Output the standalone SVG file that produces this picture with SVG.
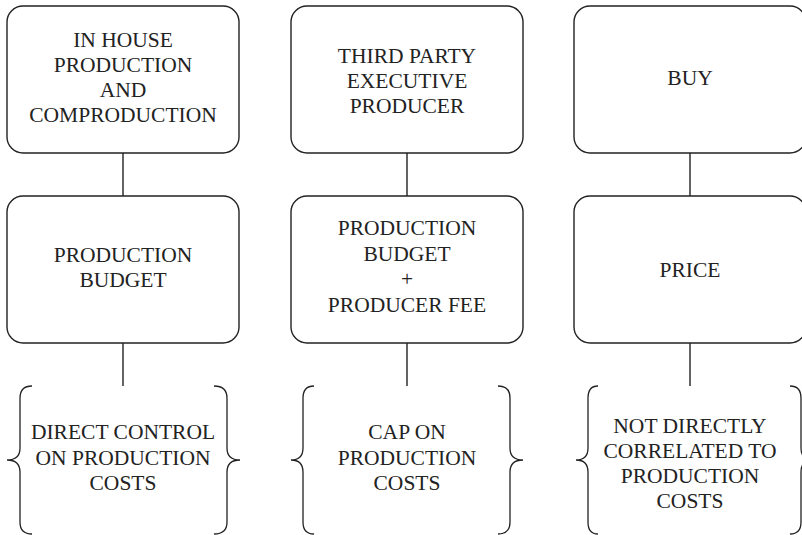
<svg xmlns="http://www.w3.org/2000/svg" width="802" height="535" viewBox="0 0 802 535">
<style>
.box{fill:#fff;stroke:#222;stroke-width:1.4}
.ln{stroke:#222;stroke-width:1.4;fill:none}
.br{stroke:#222;stroke-width:1.3;fill:none}
.t{font-family:'Liberation Serif','Times New Roman',serif;font-size:21.5px;fill:#222;text-anchor:middle}
</style>
<rect width="802" height="535" fill="#fff"/>
<g id="connectors">
<line class="ln" x1="123" y1="153" x2="123" y2="196"/>
<line class="ln" x1="123" y1="343" x2="123" y2="386"/>
<line class="ln" x1="407" y1="153" x2="407" y2="196"/>
<line class="ln" x1="407" y1="343" x2="407" y2="386"/>
<line class="ln" x1="690" y1="153" x2="690" y2="196"/>
<line class="ln" x1="690" y1="343" x2="690" y2="386"/>
</g>
<g id="in-house">
<rect class="box" x="7" y="6" width="232" height="147" rx="16"/>
<text class="t" x="123" y="47">IN HOUSE</text>
<text class="t" x="123" y="72">PRODUCTION</text>
<text class="t" x="123" y="97">AND</text>
<text class="t" x="123" y="122">COMPRODUCTION</text>
</g>
<g id="third-party">
<rect class="box" x="291" y="6" width="232" height="147" rx="16"/>
<text class="t" x="407" y="63">THIRD PARTY</text>
<text class="t" x="407" y="88">EXECUTIVE</text>
<text class="t" x="407" y="113">PRODUCER</text>
</g>
<g id="buy">
<rect class="box" x="574" y="6" width="232" height="147" rx="16"/>
<text class="t" x="690" y="85">BUY</text>
</g>
<g id="production-budget">
<rect class="box" x="7" y="196" width="232" height="147" rx="16"/>
<text class="t" x="123" y="262">PRODUCTION</text>
<text class="t" x="123" y="287">BUDGET</text>
</g>
<g id="budget-fee">
<rect class="box" x="291" y="196" width="232" height="147" rx="16"/>
<text class="t" x="407" y="235">PRODUCTION</text>
<text class="t" x="407" y="261">BUDGET</text>
<text class="t" x="407" y="286">+</text>
<text class="t" x="407" y="312">PRODUCER FEE</text>
</g>
<g id="price">
<rect class="box" x="574" y="196" width="232" height="147" rx="16"/>
<text class="t" x="690" y="277">PRICE</text>
</g>
<g id="direct-control">
<path class="br" d="M32,386 Q20,386 20,398 L20,448 Q20,460 7,460 Q20,460 20,472 L20,522 Q20,534 32,534"/>
<path class="br" d="M214,386 Q227,386 227,398 L227,448 Q227,460 240,460 Q227,460 227,472 L227,522 Q227,534 214,534"/>
<text class="t" x="123" y="439">DIRECT CONTROL</text>
<text class="t" x="123" y="465">ON PRODUCTION</text>
<text class="t" x="123" y="490">COSTS</text>
</g>
<g id="cap">
<path class="br" d="M314,386 Q303,386 303,398 L303,448 Q303,460 291,460 Q303,460 303,472 L303,522 Q303,534 314,534"/>
<path class="br" d="M498,386 Q510,386 510,398 L510,448 Q510,460 523,460 Q510,460 510,472 L510,522 Q510,534 498,534"/>
<text class="t" x="407" y="439">CAP ON</text>
<text class="t" x="407" y="465">PRODUCTION</text>
<text class="t" x="407" y="490">COSTS</text>
</g>
<g id="not-correlated">
<path class="br" d="M598,386 Q588,386 588,398 L588,448 Q588,460 576,460 Q588,460 588,472 L588,522 Q588,534 598,534"/>
<path class="br" d="M790,386 Q801,386 801,398 L801,448 Q801,460 813,460 Q801,460 801,472 L801,522 Q801,534 790,534"/>
<text class="t" x="690" y="433">NOT DIRECTLY</text>
<text class="t" x="690" y="458">CORRELATED TO</text>
<text class="t" x="690" y="483">PRODUCTION</text>
<text class="t" x="690" y="508">COSTS</text>
</g>
</svg>
